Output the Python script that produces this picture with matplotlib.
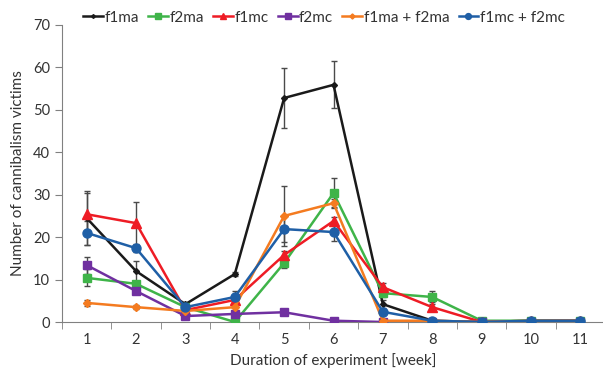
import matplotlib
matplotlib.use("Agg")
import matplotlib.pyplot as plt
import numpy as np

plt.rcParams['font.family'] = ['Lato', 'DejaVu Sans']

weeks = ['1', '2', '3', '4', '5', '6', '7', '8', '9', '10', '11']

f1ma = [24.5, 12.0, 4.2, 11.3, 52.8, 55.9, 4.2, 0.3, 0.0, 0.3, 0.3]
f1ma_err = [6.3, 2.4, 0.5, 0.5, 7.0, 5.5, 1.0, 0.3, 0, 0, 0]
f2ma = [10.4, 9.0, 3.5, 0.0, 13.9, 30.4, 6.8, 5.9, 0.3, 0.3, 0.3]
f2ma_err = [2.0, 0.5, 0.5, 0, 1.2, 3.5, 1.0, 1.3, 0, 0, 0]
f1mc = [25.4, 23.3, 2.8, 5.2, 15.8, 23.8, 8.2, 3.5, 0.0, 0.2, 0.3]
f1mc_err = [5.0, 5.0, 0.5, 1.0, 1.0, 1.0, 1.0, 0.8, 0, 0, 0]
f2mc = [13.4, 7.3, 1.4, 1.9, 2.3, 0.3, 0.0, 0.0, 0.0, 0.0, 0.0]
f2mc_err = [2.0, 0.5, 0.3, 0.3, 0.3, 0.3, 0, 0, 0, 0, 0]
f1ma_f2ma = [4.5, 3.5, 2.6, 3.5, 25.0, 28.0, 0.3, 0.3, 0.0, 0.3, 0.3]
f1ma_f2ma_err = [0.8, 0.5, 0.3, 1.0, 7.0, 1.0, 0.3, 0, 0, 0, 0]
f1mc_f2mc = [21.0, 17.4, 3.5, 5.9, 21.9, 21.2, 2.4, 0.3, 0.0, 0.3, 0.3]
f1mc_f2mc_err = [2.8, 0.8, 0.5, 1.5, 3.0, 2.0, 0.5, 0.3, 0, 0, 0]

series = [
    ('f1ma', f1ma, f1ma_err, '#1a1a1a', 'D', 3),
    ('f2ma', f2ma, f2ma_err, '#3fb449', 's', 6),
    ('f1mc', f1mc, f1mc_err, '#ee1c25', '^', 6.5),
    ('f2mc', f2mc, f2mc_err, '#7030a0', 's', 6),
    ('f1ma + f2ma', f1ma_f2ma, f1ma_f2ma_err, '#f47b20', 'D', 4),
    ('f1mc + f2mc', f1mc_f2mc, f1mc_f2mc_err, '#1f5fa6', 'o', 6.5),
]

fig = plt.figure(figsize=(6.03, 3.74), dpi=100)
ax = fig.add_axes([62/603, 52/374, (605-62)/603, (322-25)/374])
x = np.arange(1, len(weeks) + 1)

handles = []
for name, vals, err, color, mk, ms in series:
    ax.errorbar(x, vals, yerr=err, fmt='none', ecolor='#4a4a4a', elinewidth=1,
                capsize=2, capthick=1, zorder=2)
    h, = ax.plot(x, vals, color=color, lw=1.8, marker=mk, markersize=ms,
                 label=name, zorder=3)
    handles.append(h)

ax.set_xlim(0.5, len(weeks) + 0.5)
ax.set_ylim(0, 70)
ax.set_yticks(np.arange(0, 71, 10))
ax.set_xticks(x)
ax.set_xticklabels(weeks)
ax.set_xticks(np.arange(0.5, len(weeks) + 1, 1), minor=True)
ax.tick_params(axis='x', which='major', length=0, pad=8, labelsize=10.5, colors='#333333')
ax.tick_params(axis='x', which='minor', length=5, color='#808080', direction='out')
ax.tick_params(axis='y', length=5, color='#808080', labelsize=10.5, colors='#333333')
for s in ['top', 'right']:
    ax.spines[s].set_visible(False)
for s in ['left', 'bottom']:
    ax.spines[s].set_color('#808080')
ax.set_xlabel('Duration of experiment [week]', fontsize=11, color='#333333', labelpad=4)
ax.set_ylabel('Number of cannibalism victims', fontsize=11, color='#333333', labelpad=6)

leg = fig.legend(handles=handles, loc='upper center', bbox_to_anchor=(0.537, 1.0), ncol=6,
                 frameon=False, fontsize=11, handlelength=1.3, handletextpad=0.1,
                 columnspacing=0.6, borderaxespad=0.3, markerscale=0.65)
for t in leg.get_texts():
    t.set_color('#333333')

fig.savefig('out.png', dpi=100)
